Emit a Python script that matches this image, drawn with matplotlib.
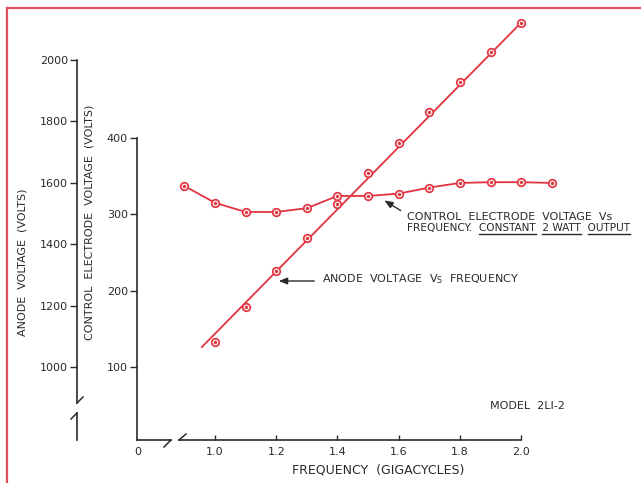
import matplotlib
matplotlib.use("Agg")
import matplotlib.pyplot as plt
from matplotlib.lines import Line2D
from matplotlib import transforms

# data
freq_anode = [1.0, 1.1, 1.2, 1.3, 1.4, 1.5, 1.6, 1.7, 1.8, 1.9, 2.0]
anode_volts = [1081, 1195, 1313, 1420, 1531, 1632, 1730, 1831, 1928, 2026, 2122]
anode_fit_freq = [0.957, 2.0]
anode_fit_volts = [1065, 2122]

freq_ctrl = [0.9, 1.0, 1.1, 1.2, 1.3, 1.4, 1.5, 1.6, 1.7, 1.8, 1.9, 2.0, 2.1]
ctrl_volts = [337, 315, 303, 303, 308, 324, 324, 327, 335, 341, 342, 342, 341]

freq_ticks = [1.0, 1.2, 1.4, 1.6, 1.8, 2.0]
ctrl_ticks = [100, 200, 300, 400]
anode_ticks = [1000, 1200, 1400, 1600, 1800, 2000]

RED = '#e2333f'
FRAME = '#e0505e'
INK = '#2a2a2a'
W, H = 641, 483
FS = 8

fig = plt.figure(figsize=(W / 100, H / 100), dpi=100)


def fpx(x, y):
    return x / W, 1 - y / H


def pline(xs, ys, **kw):
    fx = [x / W for x in xs]
    fy = [1 - y / H for y in ys]
    fig.add_artist(Line2D(fx, fy, transform=fig.transFigure, **kw))


# frame of the original sheet
pline([7, 7], [8, 483], color=FRAME, lw=1.6)
pline([7, 641], [8, 8], color=FRAME, lw=1.6)

ax = fig.add_axes([137 / W, 1 - 440 / H, 423 / W, 425 / H])
ax.set_xlim(0.745, 2.127)
ax.set_ylim(4.3, 561)
ax.patch.set_alpha(0)

ax2 = ax.twinx()
ax2.set_ylim(762, 2147)

for s in ['top', 'right', 'bottom']:
    ax.spines[s].set_visible(False)
    ax2.spines[s].set_visible(False)
ax.spines['left'].set_bounds(4.3, 400)
ax.spines['left'].set_color(INK)
ax.spines['left'].set_linewidth(1.2)

# anode axis on the far left
ax2.yaxis.tick_left()
ax2.spines['left'].set_visible(True)
ax2.spines['left'].set_position(('axes', -60 / 423))
ax2.spines['left'].set_bounds(883, 2000)
ax2.spines['left'].set_color(INK)
ax2.spines['left'].set_linewidth(1.2)
ax2.set_yticks(anode_ticks)
ax2.tick_params(axis='y', left=True, right=False, labelleft=True, labelright=False,
                direction='out', length=5, width=1, pad=1.5, labelsize=FS, colors=INK)
tr2 = transforms.blended_transform_factory(ax2.transAxes, ax2.transData)
ax2.plot([-60 / 423, -60 / 423], [850, 762], color=INK, lw=1.2, transform=tr2, clip_on=False)

# frequency axis with break
trx = transforms.blended_transform_factory(ax.transData, ax.transAxes)
ax.plot([0.745, 0.856], [0, 0], color=INK, lw=1.2, transform=trx, clip_on=False)
ax.plot([0.882, 2.0], [0, 0], color=INK, lw=1.2, transform=trx, clip_on=False)
ax.set_xticks(freq_ticks)
ax.set_xticklabels(['%.1f' % f for f in freq_ticks])
ax.tick_params(axis='x', direction='in', length=3.5, width=1, pad=5, labelsize=FS, colors=INK)
ax.set_yticks(ctrl_ticks)
ax.tick_params(axis='y', direction='out', length=5, width=1, pad=1.5, labelsize=FS, colors=INK)

# break slashes
pline([171, 164], [440, 447], color=INK, lw=1.1)
pline([179, 186], [440, 434], color=INK, lw=1.1)
pline([77, 83], [403, 397], color=INK, lw=1.1)
pline([77, 71], [413, 419], color=INK, lw=1.1)
fig.text(*fpx(138, 452), '0', fontsize=FS, color=INK, ha='center', va='center')

# curves
ax2.plot(anode_fit_freq, anode_fit_volts, color=RED, lw=1.3, zorder=2)
ax2.plot(freq_anode, anode_volts, ls='none', marker='o', ms=5.5, mfc='#fbe9ea',
         mec=RED, mew=1.2, zorder=3)
ax2.plot(freq_anode, anode_volts, ls='none', marker='o', ms=1.3, color=RED, zorder=4)
ax.plot(freq_ctrl, ctrl_volts, color=RED, lw=1.3, zorder=2)
ax.plot(freq_ctrl, ctrl_volts, ls='none', marker='o', ms=5.5, mfc='#fbe9ea',
        mec=RED, mew=1.2, zorder=3)
ax.plot(freq_ctrl, ctrl_volts, ls='none', marker='o', ms=1.3, color=RED, zorder=4)

# labels
fig.text(*fpx(23, 262), 'ANODE  VOLTAGE  (VOLTS)', rotation=90, fontsize=FS,
         color=INK, ha='center', va='center')
fig.text(*fpx(90, 222), 'CONTROL  ELECTRODE  VOLTAGE  (VOLTS)', rotation=90, fontsize=FS,
         color=INK, ha='center', va='center')
fig.text(*fpx(378, 470), 'FREQUENCY  (GIGACYCLES)', fontsize=9, color=INK,
         ha='center', va='center')
fig.text(*fpx(490, 406), 'MODEL  2LI-2', fontsize=FS, color=INK, ha='left', va='center')

fig.text(*fpx(322, 279), r'ANODE  VOLTAGE  V$_\mathregular{S}$  FREQUENCY', fontsize=FS,
         color=INK, ha='left', va='center')
fig.add_artist(matplotlib.patches.FancyArrowPatch(
    fpx(317, 281), fpx(276, 281), transform=fig.transFigure,
    arrowstyle='-|>,head_length=5,head_width=2', color=INK, lw=1))
fig.add_artist(matplotlib.patches.FancyArrowPatch(
    fpx(403, 212), fpx(382, 199), transform=fig.transFigure,
    arrowstyle='-|>,head_length=5,head_width=2', color=INK, lw=1))

FS2 = 7.6
line1 = 'CONTROL  ELECTRODE  VOLTAGE  Vs'
line2 = 'FREQUENCY.  CONSTANT  2 WATT  OUTPUT'
fig.text(*fpx(407, 220), line1, fontsize=FS, color=INK, ha='left', va='baseline')
fig.text(*fpx(407, 231), line2, fontsize=FS2, color=INK, ha='left', va='baseline')

renderer = fig.canvas.get_renderer()


def width_of(s, size):
    t = fig.text(0, 0, s, fontsize=size)
    w = t.get_window_extent(renderer).width
    t.remove()
    return w


for word in ['CONSTANT', '2 WATT', 'OUTPUT']:
    prefix = line2[:line2.index(word) + len(word)]
    end = 407 + width_of(prefix, FS2)
    start = end - width_of(word, FS2)
    pline([start, end], [234, 234], color=INK, lw=1)

fig.savefig('out.png', dpi=100)
